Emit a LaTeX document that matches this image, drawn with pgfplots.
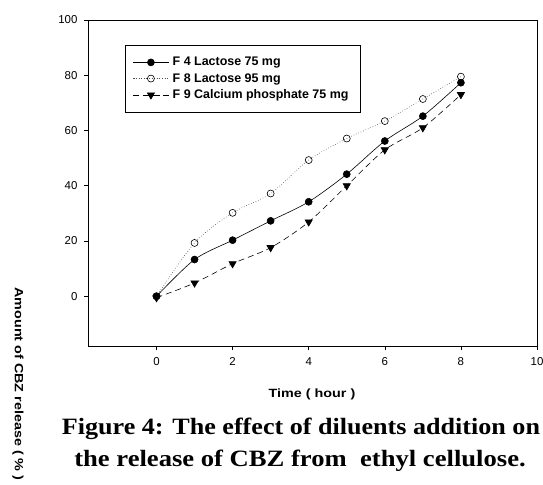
\documentclass[border=0pt]{standalone}
\usepackage{fontspec}
\setmainfont{Liberation Sans}
\newfontfamily\capfont{Liberation Serif}
\usepackage{pgfplots}
\pgfplotsset{compat=1.18}

\begin{document}
\begin{tikzpicture}
\path[use as bounding box] (0,0) rectangle (543bp,485bp);
\begin{axis}[
    at={(88bp,139bp)}, anchor=south west,
    width=449bp, height=326bp, scale only axis,
    xmin=-1.8, xmax=10, ymin=-18, ymax=100,
    xtick={0,2,4,6,8,10}, ytick={0,20,40,60,80,100},
    xtick pos=bottom, ytick pos=left,
    tick align=outside, major tick length=4bp,
    axis line style={line width=0.8pt},
    tick style={line width=0.6pt, black},
    /pgf/number format/assume math mode=true,
    ticklabel style={font=\fontsize{11.5}{13}\selectfont},
    xticklabel style={yshift=-4bp},
    yticklabel style={xshift=-3bp},
    legend image code/.code={\draw[mark repeat=2, mark phase=2, #1]
        plot coordinates {(0bp,0bp) (17.5bp,0bp) (35bp,0bp)};},
    legend style={at={(0.082,0.923)}, anchor=north west,
        font=\bfseries\fontsize{12.5}{14}\selectfont,
        draw=black, line width=0.6pt, row sep=6bp,
        inner xsep=8bp, inner ysep=12bp,
        nodes={inner xsep=4bp, inner ysep=0bp}},
    legend cell align=left,
]
\addplot[black, line width=0.6pt, smooth, mark=*, mark size=3.5bp] coordinates {
    (0,0) (1,13.3) (2,20.3) (3,27.3) (4,34.2) (5,44.2) (6,56.2) (7,65.2) (8,77.3)
};
\addplot[black!70, line width=0.6pt, smooth, dotted, mark=o, mark size=3.5bp,
    mark options={solid, black}] coordinates {
    (0,0) (1,19.3) (2,30.2) (3,37.2) (4,49.3) (5,57.1) (6,63.4) (7,71.4) (8,79.5)
};
\addplot[black, line width=0.6pt, smooth, dash pattern=on 6bp off 4bp,
    mark=triangle*, mark size=4.2bp, mark options={solid, rotate=180}] coordinates {
    (0,-0.5) (1,4.8) (2,11.8) (3,17.6) (4,26.9) (5,40) (6,53) (7,61) (8,73)
};
\legend{F 4 Lactose 75 mg, F 8 Lactose 95 mg, F 9 Calcium phosphate 75 mg}
\end{axis}
\node[font=\bfseries\fontsize{12}{14}\selectfont] at (312bp,90.5bp) {\scalebox{1.2}[1]{Time ( hour )}};
\node[font=\bfseries\fontsize{12}{14}\selectfont, rotate=-90] at (18bp,101bp) {\scalebox{1.2}[1]{Amount of CBZ release ( \% )}};
\node[font=\capfont\bfseries\fontsize{23.5}{27}\selectfont, anchor=base, inner sep=0pt] at (301bp,50bp) {\scalebox{1.115}[1]{Figure 4: The effect of diluents addition on}};
\node[font=\capfont\bfseries\fontsize{23.5}{27}\selectfont, anchor=base, inner sep=0pt] at (300bp,19bp) {\scalebox{1.137}[1]{the release of CBZ from\ \ ethyl cellulose.}};
\end{tikzpicture}
\end{document}
